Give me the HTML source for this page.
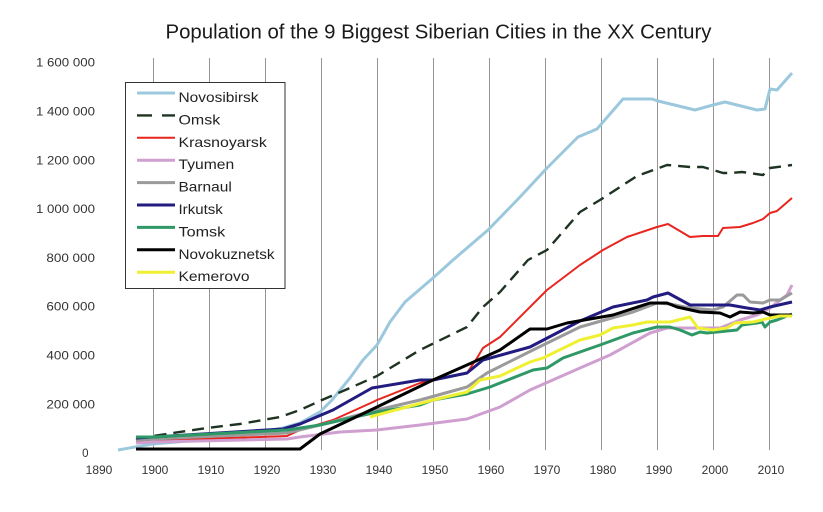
<!DOCTYPE html>
<html>
<head>
<meta charset="utf-8">
<style>
html,body{margin:0;padding:0;background:#fff;}
svg{display:block;}
text{font-family:"Liberation Sans",Arial,sans-serif;}
</style>
</head>
<body>
<svg width="823" height="512" viewBox="0 0 823 512" xmlns="http://www.w3.org/2000/svg">
<rect width="823" height="512" fill="#fff"/>
<text x="165.5" y="38.5" font-size="20.4" fill="#1a1a1a" textLength="546" lengthAdjust="spacingAndGlyphs">Population of the 9 Biggest Siberian Cities in the XX Century</text>

<g stroke="#959595" stroke-width="1">
<line x1="153.5" y1="58" x2="153.5" y2="450"/>
<line x1="209.5" y1="58" x2="209.5" y2="450"/>
<line x1="265.5" y1="58" x2="265.5" y2="450"/>
<line x1="321.5" y1="58" x2="321.5" y2="450"/>
<line x1="377.5" y1="58" x2="377.5" y2="450"/>
<line x1="433.5" y1="58" x2="433.5" y2="450"/>
<line x1="489.5" y1="58" x2="489.5" y2="450"/>
<line x1="545.5" y1="58" x2="545.5" y2="450"/>
<line x1="601.5" y1="58" x2="601.5" y2="450"/>
<line x1="657.5" y1="58" x2="657.5" y2="450"/>
<line x1="713.5" y1="58" x2="713.5" y2="450"/>
<line x1="769.5" y1="58" x2="769.5" y2="450"/>
</g>

<g font-size="11.5" fill="#333" text-anchor="end">
<text x="95" y="66.7" textLength="59" lengthAdjust="spacingAndGlyphs">1 600 000</text>
<text x="95" y="115.5" textLength="59" lengthAdjust="spacingAndGlyphs">1 400 000</text>
<text x="95" y="164.3" textLength="59" lengthAdjust="spacingAndGlyphs">1 200 000</text>
<text x="95" y="213.1" textLength="59" lengthAdjust="spacingAndGlyphs">1 000 000</text>
<text x="95" y="261.9" textLength="48.6" lengthAdjust="spacingAndGlyphs">800 000</text>
<text x="95" y="310.7" textLength="48.6" lengthAdjust="spacingAndGlyphs">600 000</text>
<text x="95" y="359.5" textLength="48.6" lengthAdjust="spacingAndGlyphs">400 000</text>
<text x="95" y="408.3" textLength="48.6" lengthAdjust="spacingAndGlyphs">200 000</text>
<text x="88.5" y="457.1">0</text>
</g>

<g font-size="12" fill="#333" text-anchor="middle">
<text x="99" y="474">1890</text>
<text x="155" y="474">1900</text>
<text x="211" y="474">1910</text>
<text x="267" y="474">1920</text>
<text x="323" y="474">1930</text>
<text x="379" y="474">1940</text>
<text x="435" y="474">1950</text>
<text x="491" y="474">1960</text>
<text x="547" y="474">1970</text>
<text x="603" y="474">1980</text>
<text x="659" y="474">1990</text>
<text x="715" y="474">2000</text>
<text x="771" y="474">2010</text>
</g>

<g fill="none" stroke-linejoin="round" stroke-linecap="butt">
<!-- Novosibirsk -->
<polyline stroke="#9cc8dd" stroke-width="3" points="118,450 135,447 153,444 200,440 260,432 283,428 300,423 320,412 332,400 350,378 363,360 377,345 390,322 405,302 433,278 453,260 488,230 520,197 547,168 560,155 578,137 597,129 623,99 652,99 658,101 695,110 713,105 725,102 737,105 757,110 765,109 770,89 777,90 792,73"/>
<!-- Omsk -->
<polyline stroke="#1f3322" stroke-width="2.4" stroke-dasharray="12 7" points="136,440 153,436 207,428 240,424 280,417 300,410 322,400 350,388 377,376 420,350 467,327 483,307 500,292 528,260 547,250 580,212 600,200 637,176 667,165 690,167 703,167 723,173 730,173 742,172 763,175 770,168 792,165"/>
<!-- Krasnoyarsk -->
<polyline stroke="#e8251f" stroke-width="2" points="136,442 153,441 200,439 260,437 287,436 300,430 333,420 373,402 377,400 420,383 433,380 467,373 477,358 483,348 500,337 547,290 580,265 603,250 627,237 657,227 668,224 690,237 703,236 718,236 723,228 740,227 753,223 763,219 770,213 777,211 792,198"/>
<!-- Tyumen -->
<polyline stroke="#cf9fd0" stroke-width="3" points="136,443 153,442 287,439 300,437 340,432 377,430 420,425 467,419 500,407 530,390 580,368 610,355 650,333 667,328 703,328 720,328 740,320 757,315 770,308 787,295 792,285"/>
<!-- Barnaul -->
<polyline stroke="#9a9a9a" stroke-width="3" points="136,440 153,439 287,433 320,425 377,410 420,400 467,387 487,373 533,350 580,327 587,325 633,312 657,303 670,304 690,308 713,310 723,307 737,295 743,295 750,302 763,303 770,300 780,300 792,293"/>
<!-- Irkutsk -->
<polyline stroke="#221c80" stroke-width="3" points="136,438 153,437 283,429 300,424 333,410 372,388 420,380 433,380 467,373 483,360 530,347 580,321 613,307 647,300 653,297 668,293 690,305 700,305 730,305 747,308 760,310 770,307 792,302"/>
<!-- Tomsk -->
<polyline stroke="#2e9966" stroke-width="3" points="136,437 153,437 287,430 320,425 377,412 420,405 433,400 467,394 490,387 500,383 533,370 547,368 563,358 580,352 600,345 633,333 657,327 670,327 680,330 692,335 700,332 707,333 737,330 742,325 757,323 762,322 765,327 770,322 777,320 792,314"/>
<!-- Novokuznetsk -->
<polyline stroke="#000" stroke-width="3" points="136,449 300,449 320,434 377,407 433,380 467,365 500,350 530,329 547,329 567,323 613,315 650,303 667,303 677,307 700,312 720,313 730,317 740,312 753,313 763,312 770,315 792,315"/>
<!-- Kemerovo -->
<polyline stroke="#f0f032" stroke-width="3" points="370,417 377,415 433,400 467,392 480,380 500,376 530,362 543,358 580,340 600,335 613,328 633,325 647,322 670,322 690,317 698,328 713,330 727,328 735,323 753,322 770,318 780,316 792,316"/>
</g>

<!-- Legend -->
<rect x="125.5" y="82.5" width="159.5" height="206" fill="#fff" stroke="#333" stroke-width="1"/>
<g stroke-width="3">
<line x1="137" y1="93" x2="175" y2="93" stroke="#9cc8dd"/>
<line x1="137" y1="115.4" x2="175" y2="115.4" stroke="#1f3322" stroke-width="2.4" stroke-dasharray="15 10"/>
<line x1="137" y1="137.8" x2="175" y2="137.8" stroke="#e8251f" stroke-width="2"/>
<line x1="137" y1="160.2" x2="175" y2="160.2" stroke="#cf9fd0"/>
<line x1="137" y1="182.6" x2="175" y2="182.6" stroke="#9a9a9a"/>
<line x1="137" y1="205" x2="175" y2="205" stroke="#221c80"/>
<line x1="137" y1="227.4" x2="175" y2="227.4" stroke="#2e9966"/>
<line x1="137" y1="249.8" x2="175" y2="249.8" stroke="#000"/>
<line x1="137" y1="272.2" x2="175" y2="272.2" stroke="#f0f032"/>
</g>
<g font-size="14" fill="#222">
<text x="178.5" y="102" textLength="80" lengthAdjust="spacingAndGlyphs">Novosibirsk</text>
<text x="178.5" y="124.4" textLength="41.7" lengthAdjust="spacingAndGlyphs">Omsk</text>
<text x="178.5" y="146.8" textLength="88.3" lengthAdjust="spacingAndGlyphs">Krasnoyarsk</text>
<text x="178.5" y="169.2" textLength="55.7" lengthAdjust="spacingAndGlyphs">Tyumen</text>
<text x="178.5" y="191.6" textLength="53.3" lengthAdjust="spacingAndGlyphs">Barnaul</text>
<text x="178.5" y="214" textLength="44.3" lengthAdjust="spacingAndGlyphs">Irkutsk</text>
<text x="178.5" y="236.4" textLength="46.7" lengthAdjust="spacingAndGlyphs">Tomsk</text>
<text x="178.5" y="258.8" textLength="96" lengthAdjust="spacingAndGlyphs">Novokuznetsk</text>
<text x="178.5" y="281.2" textLength="71" lengthAdjust="spacingAndGlyphs">Kemerovo</text>
</g>
</svg>
</body>
</html>
